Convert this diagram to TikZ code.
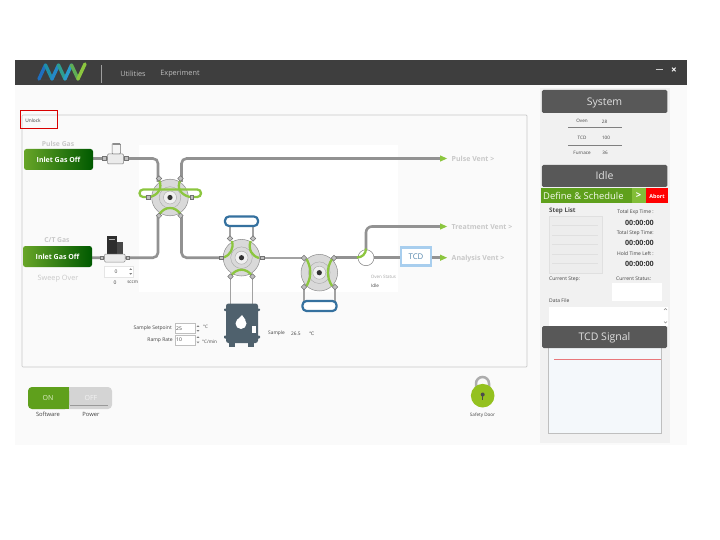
\documentclass[tikz,border=0pt]{standalone}
\usepackage{fontspec}
\setmainfont{Open Sans}
\newfontfamily\symfont{DejaVu Sans}
\usetikzlibrary{calc}
\definecolor{pipe}{HTML}{929292}
\definecolor{lime}{HTML}{8CC63F}
\definecolor{limeb}{HTML}{94C11F}
\definecolor{bluec}{HTML}{35719F}
\definecolor{oven}{HTML}{4F616D}
\definecolor{panel}{HTML}{FAFAFA}
\definecolor{sidep}{HTML}{F1F1F1}
\definecolor{hdr}{HTML}{3E3E3E}
\definecolor{bar}{HTML}{585858}
\definecolor{gtxt}{HTML}{C8C8C8}
\definecolor{tcdb}{HTML}{A8CEEE}
\definecolor{grn}{HTML}{5FA01C}
\definecolor{chart}{HTML}{F4F8FB}
\definecolor{sigred}{HTML}{E8787C}
\tikzset{
 pipeline/.style={draw=pipe,line width=2.6pt,rounded corners=5pt},
 thinpipe/.style={draw=pipe!85!white,line width=1.7pt},
 loopblue/.style={draw=bluec,line width=2.2pt,fill=white,rounded corners=4pt},
 greengroove/.style={draw=lime,line width=2.3pt},
 txt/.style={inner sep=0pt,text=#1},
 txt/.default=black!75,
 header/.style={fill=bar,draw=none,rounded corners=1.5pt,text=white!88!black,font=\fontsize{10.5}{12}\selectfont,text height=7.5pt,text depth=0pt},
 inletbtn/.style={rounded corners=2.5pt,left color=grn!95!white,right color=green!35!black,draw=none,text=white,font=\bfseries\fontsize{7}{8}\selectfont,minimum width=69pt,minimum height=21pt,inner sep=0pt},
 ventarrow/.style={fill=lime,draw=none},
 fitting/.style={draw=black!55,fill=black!25,line width=.5pt,minimum size=3.8pt,inner sep=0pt},
 valueinput/.style={draw=black!25,fill=white,minimum height=10pt,inner sep=1pt,anchor=west,text=black!75,font=\fontsize{5}{6}\selectfont,text width=17.5pt},
}
\newcommand{\valvebody}[3]{%
 \fill[black!15,draw=black!45,line width=.5pt] (#2,#3) circle (18.3);
 \draw[black!35,line width=.4pt] (#2,#3) circle (10.8);
 \fill[black!6,draw=black!35,line width=.4pt] (#2,#3) circle (6.5);
 \fill[black!80] (#2,#3) circle (2.6);
 \coordinate (#1) at (#2,#3);
}
\newcommand{\fit}[3]{\node[fitting,rotate=#3] at (#1,#2) {};}
\newcommand{\spinup}[2]{\fill[black!50] (#1-1.3,#2+.8) -- (#1+1.3,#2+.8) -- (#1,#2-.8) -- cycle;}
\newcommand{\spindn}[2]{\fill[black!50] (#1-1.3,#2-.8) -- (#1+1.3,#2-.8) -- (#1,#2+.8) -- cycle;}
\begin{document}
\begin{tikzpicture}[x=1pt,y=-1pt]
\useasboundingbox (0,0) rectangle (720,540);
\fill[white] (0,0) rectangle (720,540);
% window
\fill[panel] (15,85) rectangle (687,445);
\fill[hdr] (15,60) rectangle (687,85);
\draw[white!50!hdr,line width=.5pt] (101.5,65) -- (101.5,83);
% logo
\fill[black!75] (38,79.5) rectangle (84,81.5);
\foreach \xa/\xb/\ya/\yb/\c in {39/45.5/79/65/1E6FBF,45.5/52/65/79/1F8FA8,52/58.5/79/65/2488C8,58.5/65/65/79/2E9E8E,65/71.5/79/65/2A9BCB,71.5/78/65/79/5FAE55,78/85/79/64/8CC63F}{
 \definecolor{lgc}{HTML}{\c}
 \draw[lgc,line width=3.4pt,line cap=round] (\xa,\ya) -- (\xb,\yb);
}
\node[txt=white!75!black,font=\fontsize{7.3}{8}\selectfont] (mu) at (133,73.5) {Utilities};
\node[txt=white!75!black,font=\fontsize{7.3}{8}\selectfont] (me) at (180,73.5) {Experiment};
\draw[white!80!black,line width=1pt] (655.5,70) -- (662.5,70);
\node[txt=white,font=\bfseries\fontsize{10}{10}\selectfont] (mx) at (674,70.5) {×};
% main panel
\draw[black!22,fill=panel,line width=.7pt,rounded corners=1pt] (22,115) rectangle (527,367);
\fill[white] (138.5,145) rectangle (398,292);
\draw[red!85!black,line width=.9pt] (20.5,110.5) rectangle (57.5,128);
\node[txt,font=\fontsize{4.8}{6}\selectfont] (unlock) at (33,120.5) {Unlock};
\coordinate (jn) at (366,257.7);
% pipes
\draw[pipeline] (93,158.5) -- (158,158.5) -- (158,182);
\draw[pipeline] (181.5,182) -- (181.5,158.5) -- (440,158.5);
\draw[pipeline] (92,257.7) -- (158,257.7) -- (158,215);
\draw[pipeline] (181.5,215) -- (181.5,257.7) -- (222,257.7);
\draw[thinpipe] (258,257.7) -- (303,257.7);
\draw[pipeline] (335,257.7) -- (400,257.7);
\draw[pipeline,rounded corners=6pt] (jn) -- (366,226.5) -- (440,226.5);
\draw[pipeline] (431,257.7) -- (440,257.7);
% vents
\foreach \n/\y/\t in {pv/158.5/Pulse Vent >,tv/226.5/Treatment Vent >,av/257.7/Analysis Vent >}{
 \fill[ventarrow] (440,{\y-3.2}) -- (447,\y) -- (440,{\y+3.2}) -- cycle;
 \node[txt=gtxt,anchor=west,font=\bfseries\fontsize{7}{8}\selectfont] (\n) at (451.5,{\y+.7}) {\t};
}
% gas
\node[inletbtn] (inlet1) at (58.5,159.5) {Inlet Gas Off};
\node[inletbtn] (inlet2) at (57.5,256.5) {Inlet Gas Off};
\node[txt=gtxt,font=\bfseries\fontsize{6.8}{8}\selectfont] (pg) at (58,143.5) {Pulse Gas};
\node[txt=gtxt,font=\bfseries\fontsize{6.8}{8}\selectfont] (ct) at (57,240) {C/T Gas};
\node[txt=gtxt,font=\fontsize{7.3}{8}\selectfont] (so) at (58,278.5) {Sweep Over};
% solenoid
\draw[black!50,fill=black!8,line width=.5pt,rounded corners=1pt] (107.5,154) rectangle (123.5,164);
\draw[black!55,fill=black!4,line width=.5pt,rounded corners=1pt] (112,143.5) rectangle (120.5,154);
\fill[black!45] (112.5,143) rectangle (120,145);
\node[fitting] at (104.5,158.5) {};
\node[fitting] at (126.5,158.5) {};
% MFC
\fill[black!82] (107,236) rectangle (117,254);
\fill[black!72] (117,242) rectangle (122.5,254);
\draw[white!70!black,line width=.4pt] (108.5,239) -- (115,239);
\draw[black!45,fill=black!8,line width=.5pt,rounded corners=1pt] (104.5,254) rectangle (125,262);
\node[fitting,minimum size=3pt] at (102,258) {};
\node[fitting,minimum size=3pt] at (127.5,258) {};
% mfc inputs
\node[draw=black!10,fill=white,minimum width=29pt,minimum height=11pt,inner sep=0pt] (mfcbox) at (118.5,271.5) {};
\node[txt=black!70,font=\fontsize{5}{6}\selectfont] (mfcin) at (116,271.5) {0};
\spinup{130.7}{269}
\spindn{130.7}{274}
\node[txt,font=\fontsize{5}{6}\selectfont] (z0) at (115,282.5) {0};
\node[txt,font=\fontsize{4.6}{6}\selectfont] (sccm) at (132.7,282.5) {sccm};
% valve 1
\valvebody{v1}{170}{197.5}
\draw[greengroove,rounded corners=3.7pt] (149,197) -- (139.5,197) -- (139.5,189.5) -- (201,189.5) -- (201,197) -- (191,197);
\draw[greengroove] (159,180) .. controls (163,188) and (158,195) .. (150,197);
\draw[greengroove] (180.5,180) .. controls (176,188) and (181,195) .. (190,197);
\draw[greengroove] (159.5,214) .. controls (165,206) and (175,206) .. (180.5,214);
\foreach \x/\y/\r in {159/178.5/45,180.5/178.5/45,159/215.7/45,180.5/215.7/45,148.3/197.3/0,191.7/197.3/0}{\fit{\x}{\y}{\r}}
% valve 2
\valvebody{v2}{241.5}{257.7}
\draw[thinpipe] (230,226) -- (230,240);
\draw[thinpipe] (253,226) -- (253,240);
\draw[thinpipe] (230.5,276) -- (230.5,305);
\draw[thinpipe] (252.5,276) -- (252.5,305);
\draw[loopblue] (225,216.5) rectangle (258,226);
\draw[greengroove] (232,241) .. controls (234,249) and (230,255) .. (224,257.5);
\draw[greengroove] (250.5,241) .. controls (248,250) and (252,256) .. (259,258);
\draw[greengroove] (231.5,275) .. controls (237,268) and (246,268) .. (251.5,275);
\foreach \x/\y/\r in {230/238.5/45,253/238.5/45,230.5/276.5/45,252.5/276.5/45,221/257.7/0,262/257.7/0}{\fit{\x}{\y}{\r}}
% valve 3
\valvebody{v3}{319.3}{272.7}
\draw[thinpipe] (304,287) -- (304,301);
\draw[thinpipe] (335,287) -- (335,301);
\draw[loopblue] (302.5,301) rectangle (336.5,311);
\draw[greengroove] (306.5,259) .. controls (311.5,268) and (311.5,277) .. (306.5,286);
\draw[greengroove] (332,259) .. controls (326.5,268) and (326.5,277) .. (332,286);
\foreach \x/\y/\r in {304/258/45,334/258/45,304/287/45,335/287/45}{\fit{\x}{\y}{\r}}
% junction
\draw[black!50,fill=white,line width=.5pt] (jn) circle (8);
\draw[greengroove] (357,257.5) .. controls (362,257.5) and (366,254) .. (366,248.5);
% TCD
\node[draw=tcdb,fill=white,line width=2.4pt,minimum width=29.5pt,minimum height=18pt,inner sep=0pt,text=bluec!85!white,font=\fontsize{7.8}{9}\selectfont] (tcd) at (416,256.5) {TCD};
\node[txt=black!35,font=\fontsize{4.5}{6}\selectfont] (os) at (383.5,277) {Oven Status};
\node[txt,font=\fontsize{4.6}{6}\selectfont] (idle0) at (375,285.5) {Idle};
% oven
\fill[oven,rounded corners=2.5pt] (226,303.5) rectangle (258,343);
\fill[oven,rounded corners=.8pt] (224,308.5) rectangle (260,311);
\fill[oven,rounded corners=.8pt] (224,335.5) rectangle (260,338.5);
\fill[oven] (229,343) rectangle (235,347);
\fill[oven] (248,343) rectangle (254,347);
\fill[white] (241,323.5) circle (5.5);
\fill[white] (237,320) -- (242,315) -- (245.5,320) -- cycle;
\fill[white] (252,325.5) rectangle (255.5,333);
% sample inputs
\node[txt,font=\fontsize{5}{6}\selectfont,anchor=east] (ss) at (172,328.3) {Sample Setpoint};
\node[txt,font=\fontsize{5}{6}\selectfont,anchor=east] (rr) at (173,340) {Ramp Rate};
\node[valueinput] (sp) at (175,328.5) {25};
\node[valueinput] (rp) at (175,340) {10};
\spinup{198}{326}\spindn{198}{331}\spinup{198}{337}\spindn{198}{342.5}
\node[txt,anchor=west,font=\fontsize{4.6}{6}\selectfont] (dc) at (203,327) {°C};
\node[txt,anchor=west,font=\fontsize{4.6}{6}\selectfont] (dm) at (202,341.5) {°C/min};
\node[txt,anchor=west,font=\fontsize{4.8}{6}\selectfont] (sl) at (268,333.5) {Sample};
\node[txt,anchor=west,font=\fontsize{4.8}{6}\selectfont] (sv) at (291,333.5) {26.5};
\node[txt,anchor=west,font=\symfont\fontsize{4.6}{6}\selectfont] (sc) at (309,333.8) {℃};
% toggle
\fill[black!17,rounded corners=4pt] (28,387) rectangle (112,409);
\fill[grn,rounded corners=4pt] (28,387) rectangle (69,409);
\fill[grn] (60,387) rectangle (69,409);
\draw[black!40,line width=.5pt] (70,405.5) -- (108,405.5);
\node[txt=white!70!lime,font=\fontsize{7}{8}\selectfont] (on) at (48,398) {ON};
\node[txt=white!95!black,font=\fontsize{7}{8}\selectfont] (off) at (91,398) {OFF};
\node[txt,font=\fontsize{5.8}{7}\selectfont] (sw) at (48,414.5) {Software};
\node[txt,font=\fontsize{5.8}{7}\selectfont] (pw) at (91,414.5) {Power};
% lock
\draw[black!32,line width=2.5pt] (476,390) -- (476,383.5) arc[start angle=180,end angle=360,radius=6.5] -- (489,390);
\fill[limeb] (482.7,395.7) circle (11.8);
\fill[black!70] (482.7,394.5) circle (2);
\fill[black!70] (482,394.5) rectangle (483.4,399.5);
\node[txt,font=\fontsize{4.6}{6}\selectfont] (sd) at (482.5,415) {Safety Door};
% right panel
\fill[sidep] (540,88) rectangle (670,443);
\node[header,minimum width=125.5pt,minimum height=23pt,inner sep=0pt] (sys) at (604.5,101.5) {System};
\node[txt,font=\fontsize{4.6}{6}\selectfont] (o1) at (582,121) {Oven};
\node[txt,font=\fontsize{4.6}{6}\selectfont] (o2) at (604.5,122) {28};
\draw[black!50,line width=.4pt] (568,127.7) -- (622,127.7);
\node[txt,font=\fontsize{4.6}{6}\selectfont] (t1) at (582,137.5) {TCD};
\node[txt,font=\fontsize{4.6}{6}\selectfont] (t2) at (606,137.5) {100};
\draw[black!50,line width=.4pt] (568,145) -- (622,145);
\node[txt,font=\fontsize{4.6}{6}\selectfont] (f1) at (582,153) {Furnace};
\node[txt,font=\fontsize{4.6}{6}\selectfont] (f2) at (605,153) {36};
\node[header,minimum width=125.5pt,minimum height=22pt,inner sep=0pt] (idle) at (604.5,176) {Idle};
\fill[grn] (541,188) rectangle (632,203);
\fill[lime!80!grn] (632,188) rectangle (646,203);
\fill[red] (646,188) rectangle (668,203);
\node[txt=white!90!lime,anchor=west,font=\fontsize{9.4}{10}\selectfont] (ds) at (543,196) {Define \& Schedule};
\node[txt=white,font=\bfseries\fontsize{9.5}{10}\selectfont] (gt) at (638.5,195.5) {>};
\node[txt=white,font=\bfseries\fontsize{5.4}{6}\selectfont] (ab) at (657,196) {Abort};
\node[txt=black!70,anchor=west,font=\bfseries\fontsize{6.2}{7}\selectfont] (sl2) at (549,211) {Step List};
\draw[black!12,fill=black!7,line width=.5pt] (549,216) rectangle (602,273);
\foreach \y in {225,235,244,254,263}{\draw[black!12,line width=.4pt] (552,\y) -- (598,\y);}
\node[txt,anchor=east,font=\fontsize{5}{6}\selectfont] (te) at (654,212.5) {Total Exp Time :};
\node[txt=black!80,anchor=east,font=\bfseries\fontsize{7.2}{8}\selectfont] (tev) at (654,222.5) {00:00:00};
\node[txt,anchor=east,font=\fontsize{5}{6}\selectfont] (ts) at (654,233) {Total Step Time:};
\node[txt=black!80,anchor=east,font=\bfseries\fontsize{7.2}{8}\selectfont] (tsv) at (654,243) {00:00:00};
\node[txt,anchor=east,font=\fontsize{5}{6}\selectfont] (ht) at (654,253.5) {Hold Time Left :};
\node[txt=black!80,anchor=east,font=\bfseries\fontsize{7.2}{8}\selectfont] (htv) at (654,264) {00:00:00};
\node[txt,anchor=west,font=\fontsize{5}{6}\selectfont] (cs) at (549,279) {Current Step:};
\node[txt,anchor=west,font=\fontsize{5}{6}\selectfont] (cst) at (616,278.5) {Current Status:};
\fill[white] (612,283) rectangle (662,301);
\node[txt,anchor=west,font=\fontsize{5}{6}\selectfont] (df) at (549,301) {Data File};
\fill[white] (549,307) rectangle (668,326);
\draw[black!45,line width=.4pt] (664,310) -- (665.5,308.5) -- (667,310);
\draw[black!45,line width=.4pt] (664,321.5) -- (665.5,323) -- (667,321.5);
\draw[black!25,fill=chart,line width=.6pt] (548.7,345) rectangle (661.7,433.3);
\node[header,minimum width=125pt,minimum height=22pt,inner sep=0pt] (sig) at (604.5,337) {TCD Signal};
\fill[sigred] (554,358.6) rectangle (661,359.6);
\end{tikzpicture}
\end{document}
